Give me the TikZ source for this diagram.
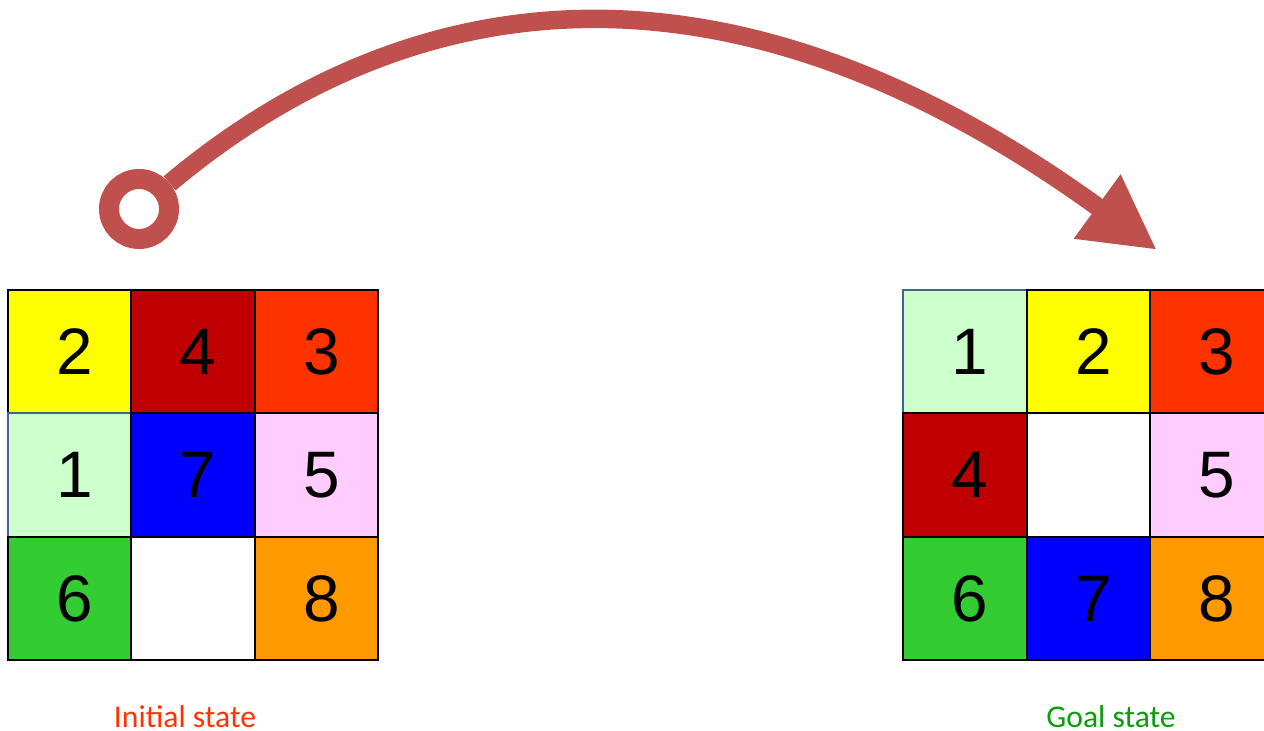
\documentclass[tikz,border=0pt]{standalone}
\usepackage{fontspec}
\usepackage{xcolor}
\usepackage{tikz}
\usetikzlibrary{arrows.meta,positioning}
\newfontfamily\tilefont{Liberation Sans}
\newfontfamily\labelfont{Carlito}
\definecolor{TileYellow}{HTML}{FFFF00}
\definecolor{TileDarkRed}{HTML}{C00000}
\definecolor{TileRed}{HTML}{FF3300}
\definecolor{TileMint}{HTML}{CCFFCC}
\definecolor{TileBlue}{HTML}{0000FF}
\definecolor{TilePink}{HTML}{FFCCFF}
\definecolor{TileGreen}{HTML}{33CC33}
\definecolor{TileOrange}{HTML}{FF9900}
\definecolor{TileEdge}{HTML}{41648A}
\definecolor{MoveRed}{HTML}{C0504D}
\definecolor{InitRed}{HTML}{FF3300}
\definecolor{GoalGreen}{HTML}{0A9E0A}

\begin{document}
\begin{tikzpicture}[
  x=1cm,
  y=1cm,
  tile/.style={
    draw=black,
    line width=0.6pt,
    minimum size=1.235cm,
    inner sep=0pt,
    font=\tilefont\fontsize{18.7}{20}\selectfont,
    execute at begin node={\hspace*{0.1cm}},
    text=black
  },
  mintile/.style={tile, fill=TileMint, draw=TileEdge},
  statelabel/.style={font=\labelfont\fontsize{9}{11}\selectfont, inner sep=0pt},
  startring/.style={circle, draw=MoveRed, line width=0.20cm, minimum size=0.60cm, inner sep=0pt},
  movearrow/.style={-{Triangle[length=7.4mm,width=7.4mm]}, line width=0.185cm, draw=MoveRed}
]
\useasboundingbox (0,0) rectangle (12.64,7.31);
\clip (0,0) rectangle (12.64,7.31);

% initial state
\node[tile, fill=TileYellow, execute at begin node={}] (i11) at (0.695,3.795) {2};
\node[tile, fill=TileDarkRed] (i12) at (1.930,3.795) {4};
\node[tile, fill=TileRed] (i13) at (3.165,3.795) {3};
\node[mintile] (i21) at (0.695,2.560) {1};
\node[tile, fill=TileBlue] (i22) at (1.930,2.560) {7};
\node[tile, fill=TilePink] (i23) at (3.165,2.560) {5};
\node[tile, fill=TileGreen] (i31) at (0.695,1.325) {6};
\node[tile, fill=white] (i32) at (1.930,1.325) {};
\node[tile, fill=TileOrange] (i33) at (3.165,1.325) {8};

% goal state
\node[mintile] (g11) at (9.650,3.795) {1};
\node[tile, fill=TileYellow] (g12) at (10.885,3.795) {2};
\node[tile, fill=TileRed] (g13) at (12.120,3.795) {3};
\node[tile, fill=TileDarkRed] (g21) at (9.650,2.560) {4};
\node[tile, fill=white] (g22) at (10.885,2.560) {};
\node[tile, fill=TilePink] (g23) at (12.120,2.560) {5};
\node[tile, fill=TileGreen] (g31) at (9.650,1.325) {6};
\node[tile, fill=TileBlue] (g32) at (10.885,1.325) {7};
\node[tile, fill=TileOrange] (g33) at (12.120,1.325) {8};

\node[statelabel, text=InitRed] (initlabel) at (1.85,0.14) {Initial state};
\node[statelabel, text=GoalGreen] (goallabel) at (11.11,0.14) {Goal state};

% the move
\node[startring] (start) at (1.39,5.22) {};
\coordinate (goaltip) at (11.57,4.81);
\draw[movearrow] (start.40) .. controls +(40:2.9) and +(144:5.55) .. (goaltip);
\end{tikzpicture}
\end{document}
